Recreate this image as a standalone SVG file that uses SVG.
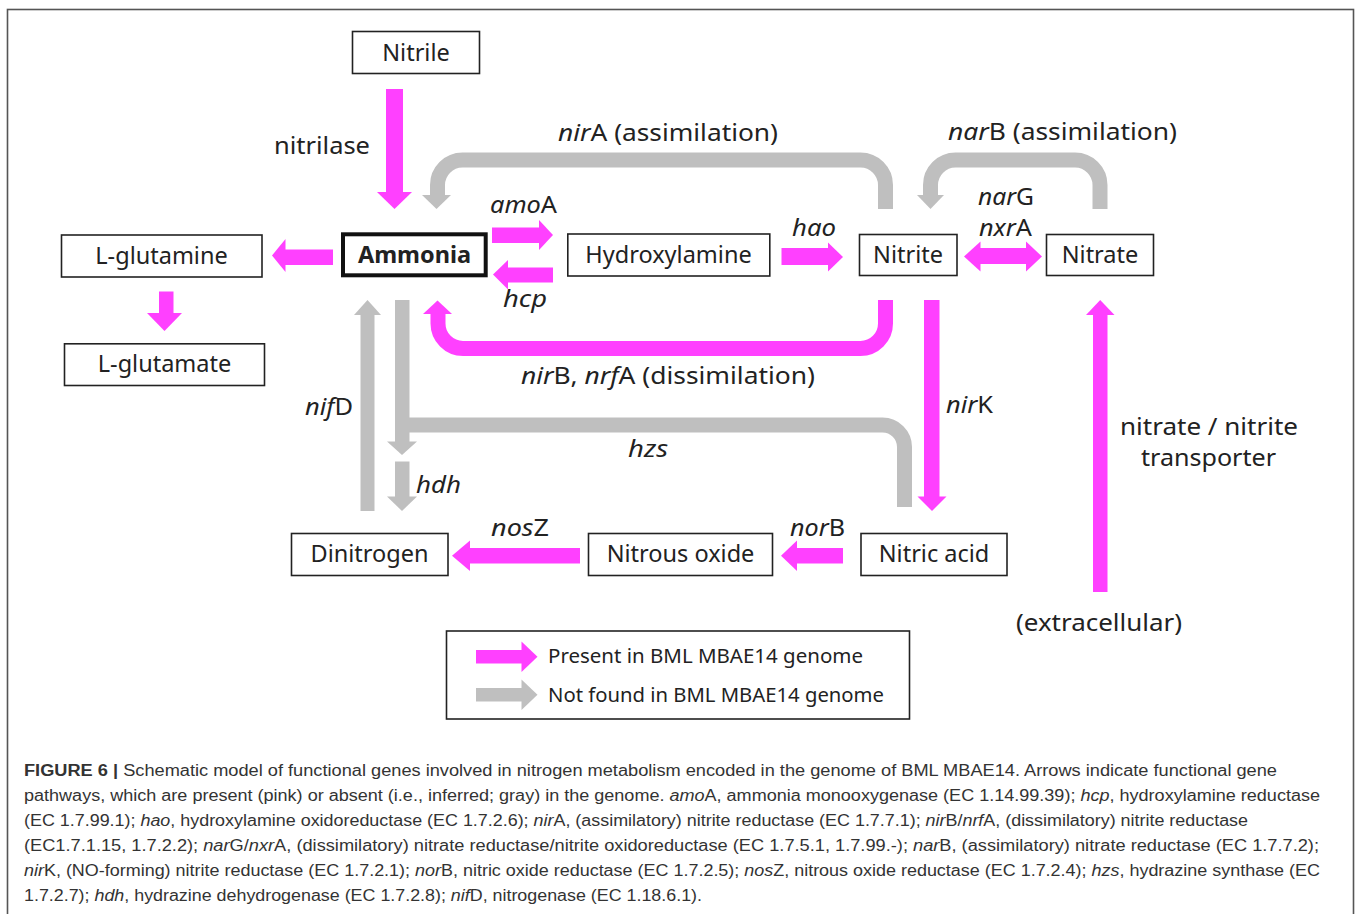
<svg xmlns="http://www.w3.org/2000/svg" width="1357" height="914" viewBox="0 0 1357 914">
<style>
.box{fill:#fff;stroke:#222;stroke-width:1.6}
.bt{font-family:"Noto Sans","DejaVu Sans",sans-serif;font-size:23.5px;fill:#222;text-anchor:middle}
.lb{font-family:"Noto Sans","DejaVu Sans",sans-serif;font-size:23.5px;fill:#222}
.it{font-style:italic}
.pk{fill:#ff40ff}
.gy{fill:#bfbfbf}
.pks{fill:none;stroke:#ff40ff;stroke-width:15}
.gys{fill:none;stroke:#bfbfbf;stroke-width:15}
.cap{font-family:"Liberation Sans",Arial,sans-serif;font-size:16px;fill:#333}
.lg{font-family:"Noto Sans","DejaVu Sans",sans-serif;font-size:19.5px;fill:#222}
</style>
<rect x="0" y="0" width="1357" height="914" fill="#fff"/>
<rect x="7.5" y="9.5" width="1346" height="930" fill="none" stroke="#555" stroke-width="1.6"/>

<g id="connectors">
  <!-- nitrilase -->
  <rect class="pk" x="386" y="89" width="17" height="103"/>
  <polygon class="pk" points="377,192 412,192 394.5,209"/>
  <!-- nirA assimilation (gray) -->
  <path class="gys" d="M885.5,209 V185 A25,25 0 0 0 860.5,160 H462.5 A25,25 0 0 0 437.5,185 V196"/>
  <polygon class="gy" points="422,195 451,195 436.5,209"/>
  <!-- narB assimilation (gray) -->
  <path class="gys" d="M1100,209 V185 A25,25 0 0 0 1075,160 H955.5 A25,25 0 0 0 930.5,185 V196"/>
  <polygon class="gy" points="917,195 944,195 930.5,209"/>
  <!-- amoA -->
  <rect class="pk" x="492" y="227.5" width="48" height="15.5"/>
  <polygon class="pk" points="539,220 539,250 553,235"/>
  <!-- hcp -->
  <rect class="pk" x="507" y="267.5" width="46" height="15"/>
  <polygon class="pk" points="508,260 508,289.5 493,274.5"/>
  <!-- Ammonia -> L-glutamine -->
  <rect class="pk" x="284" y="249.5" width="49" height="15.5"/>
  <polygon class="pk" points="285.5,239 285.5,272 272,255.5"/>
  <!-- L-glutamine -> L-glutamate -->
  <rect class="pk" x="159" y="291.5" width="14.5" height="22"/>
  <polygon class="pk" points="147,313 182,313 164.5,331"/>
  <!-- hao -->
  <rect class="pk" x="781.5" y="248" width="47" height="17"/>
  <polygon class="pk" points="828,242.5 828,271.5 843,257"/>
  <!-- narG / nxrA double -->
  <rect class="pk" x="979" y="248" width="48" height="16"/>
  <polygon class="pk" points="980.5,241.5 980.5,271.5 964,256.5"/>
  <polygon class="pk" points="1026,241.5 1026,271.5 1042,256.5"/>
  <!-- nirB, nrfA dissimilation -->
  <path class="pks" d="M885.5,300 V323.5 A25,25 0 0 1 860.5,348.5 H463 A25,25 0 0 1 438,323.5 V313"/>
  <polygon class="pk" points="423,314 452,314 437.5,300.5"/>
  <!-- nirK -->
  <rect class="pk" x="924" y="300" width="15.5" height="197"/>
  <polygon class="pk" points="917.5,496.5 946.5,496.5 932,511"/>
  <!-- hzs (gray) -->
  <path class="gys" d="M904.5,507 V447 A22,22 0 0 0 882.5,425 H402"/>
  <!-- Ammonia down gray -->
  <rect class="gy" x="395" y="300" width="14.5" height="142"/>
  <polygon class="gy" points="387,441.5 417,441.5 402,455"/>
  <!-- hdh -->
  <rect class="gy" x="395" y="461.5" width="14.5" height="35.5"/>
  <polygon class="gy" points="387,496.5 417,496.5 402,511"/>
  <!-- nifD -->
  <rect class="gy" x="360.5" y="314" width="14" height="197"/>
  <polygon class="gy" points="354,315 381,315 367.5,300"/>
  <!-- nosZ -->
  <rect class="pk" x="469" y="548" width="111" height="15.5"/>
  <polygon class="pk" points="470,540.5 470,571 452,555.7"/>
  <!-- norB -->
  <rect class="pk" x="796" y="548" width="47" height="15.5"/>
  <polygon class="pk" points="797,540.5 797,571 781,555.7"/>
  <!-- transporter -->
  <rect class="pk" x="1093" y="314" width="14.5" height="278"/>
  <polygon class="pk" points="1086,315 1114.5,315 1100.2,300"/>
</g>

<g id="node-nitrile"><rect class="box" x="352.5" y="31.5" width="127" height="42"/><text class="bt" x="416" y="60.5">Nitrile</text></g>
<g id="node-ammonia"><rect x="343" y="234.3" width="142.7" height="41" fill="#fff" stroke="#111" stroke-width="4"/><text class="bt" x="414.5" y="263" font-weight="bold" fill="#111">Ammonia</text></g>
<g id="node-lglutamine"><rect class="box" x="61.5" y="235" width="200.5" height="42"/><text class="bt" x="161.5" y="263.5">L-glutamine</text></g>
<g id="node-lglutamate"><rect class="box" x="64.5" y="343.8" width="200" height="41.7"/><text class="bt" x="164.5" y="372">L-glutamate</text></g>
<g id="node-hydroxylamine"><rect class="box" x="567.8" y="234" width="202" height="42"/><text class="bt" x="668.5" y="262.5">Hydroxylamine</text></g>
<g id="node-nitrite"><rect class="box" x="859.5" y="234.5" width="97.5" height="41"/><text class="bt" x="908" y="262.5">Nitrite</text></g>
<g id="node-nitrate"><rect class="box" x="1046.5" y="234.5" width="107" height="41"/><text class="bt" x="1100" y="262.5">Nitrate</text></g>
<g id="node-dinitrogen"><rect class="box" x="291.5" y="533.5" width="156.5" height="42"/><text class="bt" x="369.5" y="562">Dinitrogen</text></g>
<g id="node-nitrousoxide"><rect class="box" x="588.5" y="533.5" width="184" height="42"/><text class="bt" x="680.5" y="562">Nitrous oxide</text></g>
<g id="node-nitricacid"><rect class="box" x="861" y="533.5" width="146" height="42"/><text class="bt" x="934" y="562">Nitric acid</text></g>

<g id="labels">
  <text class="lb" x="274" y="154" textLength="96" lengthAdjust="spacingAndGlyphs">nitrilase</text>
  <text class="lb" x="558" y="141" textLength="220" lengthAdjust="spacingAndGlyphs"><tspan class="it">nir</tspan>A (assimilation)</text>
  <text class="lb" x="948" y="140" textLength="229" lengthAdjust="spacingAndGlyphs"><tspan class="it">nar</tspan>B (assimilation)</text>
  <text class="lb" x="490" y="213" textLength="67" lengthAdjust="spacingAndGlyphs"><tspan class="it">amo</tspan>A</text>
  <text class="lb it" x="503" y="307" textLength="44" lengthAdjust="spacingAndGlyphs">hcp</text>
  <text class="lb it" x="792" y="236" textLength="44" lengthAdjust="spacingAndGlyphs">hao</text>
  <text class="lb" x="978" y="205" textLength="56" lengthAdjust="spacingAndGlyphs"><tspan class="it">nar</tspan>G</text>
  <text class="lb" x="979" y="236" textLength="53" lengthAdjust="spacingAndGlyphs"><tspan class="it">nxr</tspan>A</text>
  <text class="lb" x="521" y="384" textLength="294" lengthAdjust="spacingAndGlyphs"><tspan class="it">nir</tspan>B, <tspan class="it">nrf</tspan>A (dissimilation)</text>
  <text class="lb" x="305" y="415" textLength="48" lengthAdjust="spacingAndGlyphs"><tspan class="it">nif</tspan>D</text>
  <text class="lb it" x="628" y="457" textLength="40" lengthAdjust="spacingAndGlyphs">hzs</text>
  <text class="lb it" x="416" y="493" textLength="45" lengthAdjust="spacingAndGlyphs">hdh</text>
  <text class="lb" x="946" y="413" textLength="47" lengthAdjust="spacingAndGlyphs"><tspan class="it">nir</tspan>K</text>
  <text class="lb" x="491" y="536" textLength="58" lengthAdjust="spacingAndGlyphs"><tspan class="it">nos</tspan>Z</text>
  <text class="lb" x="790" y="536" textLength="55" lengthAdjust="spacingAndGlyphs"><tspan class="it">nor</tspan>B</text>
  <text class="lb" x="1120" y="435" textLength="178" lengthAdjust="spacingAndGlyphs">nitrate / nitrite</text>
  <text class="lb" x="1141" y="466" textLength="135" lengthAdjust="spacingAndGlyphs">transporter</text>
  <text class="lb" x="1016" y="631" textLength="166" lengthAdjust="spacingAndGlyphs">(extracellular)</text>
</g>

<g id="legend">
  <rect x="446.5" y="631" width="463" height="88" fill="#fff" stroke="#222" stroke-width="1.6"/>
  <rect class="pk" x="476" y="650" width="46.5" height="13.5"/>
  <polygon class="pk" points="521.5,641.5 521.5,672 537.5,656.7"/>
  <rect class="gy" x="476" y="688" width="46.5" height="13.5"/>
  <polygon class="gy" points="521.5,679.5 521.5,710 537.5,694.7"/>
  <text class="lg" x="548" y="663" textLength="315" lengthAdjust="spacingAndGlyphs">Present in BML MBAE14 genome</text>
  <text class="lg" x="548" y="701.5" textLength="336" lengthAdjust="spacingAndGlyphs">Not found in BML MBAE14 genome</text>
</g>

<g id="caption">
  <text class="cap" x="24" y="776" textLength="1253" lengthAdjust="spacingAndGlyphs"><tspan font-weight="bold">FIGURE 6 |</tspan> Schematic model of functional genes involved in nitrogen metabolism encoded in the genome of BML MBAE14. Arrows indicate functional gene</text>
  <text class="cap" x="24" y="801" textLength="1296" lengthAdjust="spacingAndGlyphs">pathways, which are present (pink) or absent (i.e., inferred; gray) in the genome. <tspan class="it">amo</tspan>A, ammonia monooxygenase (EC 1.14.99.39); <tspan class="it">hcp</tspan>, hydroxylamine reductase</text>
  <text class="cap" x="24" y="826" textLength="1224" lengthAdjust="spacingAndGlyphs">(EC 1.7.99.1); <tspan class="it">hao</tspan>, hydroxylamine oxidoreductase (EC 1.7.2.6); <tspan class="it">nir</tspan>A, (assimilatory) nitrite reductase (EC 1.7.7.1); <tspan class="it">nir</tspan>B/<tspan class="it">nrf</tspan>A, (dissimilatory) nitrite reductase</text>
  <text class="cap" x="24" y="851" textLength="1295" lengthAdjust="spacingAndGlyphs">(EC1.7.1.15, 1.7.2.2); <tspan class="it">nar</tspan>G/<tspan class="it">nxr</tspan>A, (dissimilatory) nitrate reductase/nitrite oxidoreductase (EC 1.7.5.1, 1.7.99.-); <tspan class="it">nar</tspan>B, (assimilatory) nitrate reductase (EC 1.7.7.2);</text>
  <text class="cap" x="24" y="876" textLength="1296" lengthAdjust="spacingAndGlyphs"><tspan class="it">nir</tspan>K, (NO-forming) nitrite reductase (EC 1.7.2.1); <tspan class="it">nor</tspan>B, nitric oxide reductase (EC 1.7.2.5); <tspan class="it">nos</tspan>Z, nitrous oxide reductase (EC 1.7.2.4); <tspan class="it">hzs</tspan>, hydrazine synthase (EC</text>
  <text class="cap" x="24" y="900.5" textLength="678" lengthAdjust="spacingAndGlyphs">1.7.2.7); <tspan class="it">hdh</tspan>, hydrazine dehydrogenase (EC 1.7.2.8); <tspan class="it">nif</tspan>D, nitrogenase (EC 1.18.6.1).</text>
</g>
</svg>
